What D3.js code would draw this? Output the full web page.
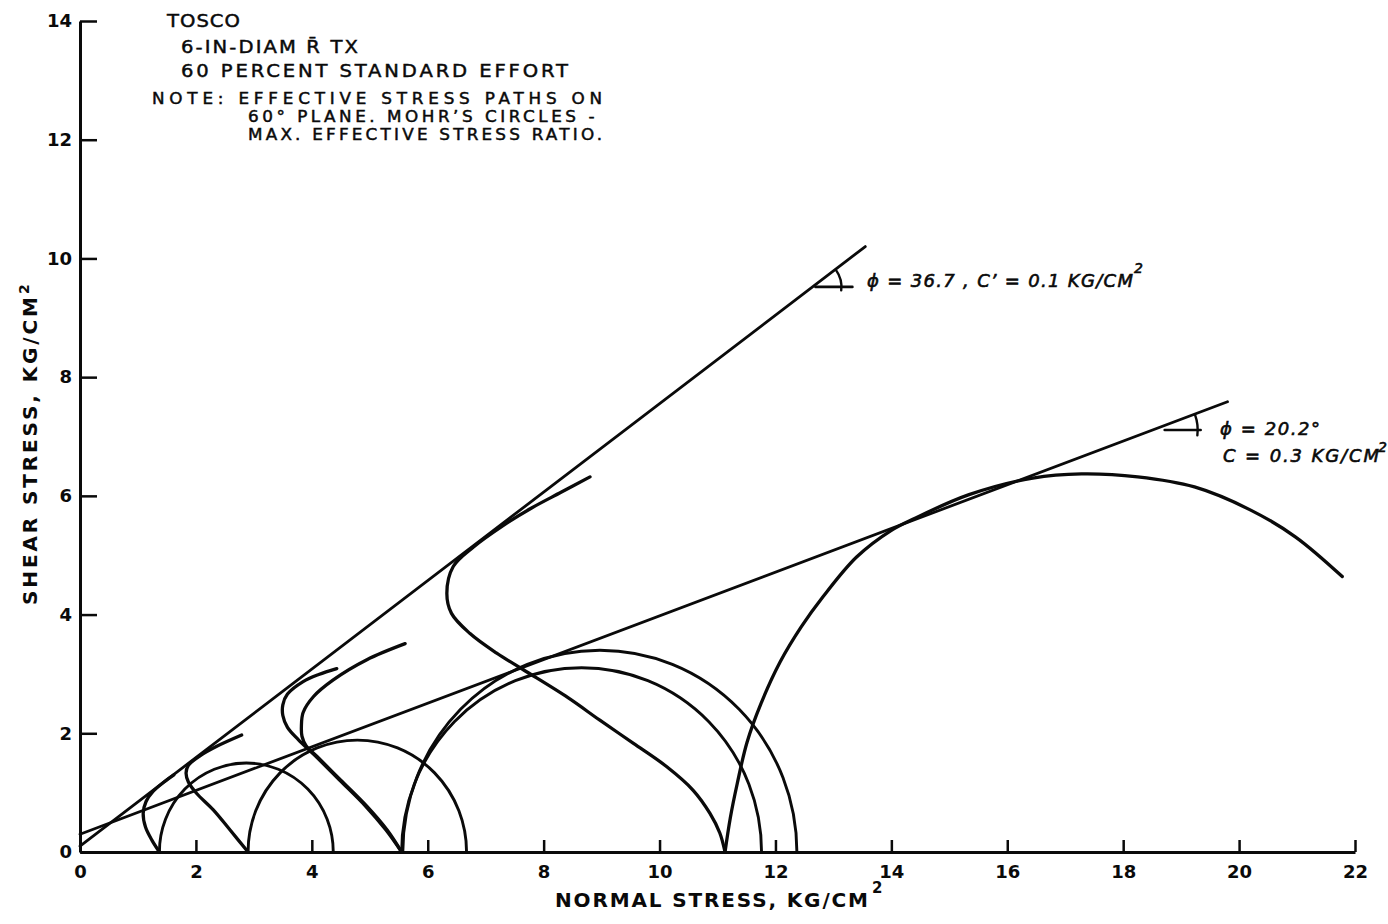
<!DOCTYPE html>
<html>
<head>
<meta charset="utf-8">
<script src="https://cdn.jsdelivr.net/npm/d3@7"></script>
<style>
  html, body { margin: 0; padding: 0; background: #ffffff; }
  svg { display: block; }
</style>
</head>
<body>
<svg id="chart" width="1388" height="924"></svg>
<script>
// ---- axis ticks ----
const xTicks = [0, 2, 4, 6, 8, 10, 12, 14, 16, 18, 20, 22];
const yTicks = [0, 2, 4, 6, 8, 10, 12, 14];

// ---- failure envelopes: friction angle (deg), cohesion (kg/cm2), drawn extent on the normal-stress axis ----
const envelopePhi = [36.7, 20.2];
const envelopeC = [0.1, 0.3];
const envelopeEnd = [13.55, 19.8];

// ---- Mohr's circles at max. effective stress ratio: minor and major principal stress ----
const circleSigma3 = [1.37, 2.90, 5.55, 5.57];
const circleSigma1 = [4.37, 6.67, 11.76, 12.37];

// ---- effective stress paths on the 60° plane: [normal stress, shear stress] ----
const pathA = [[1.37, 0], [1.24, 0.20], [1.13, 0.42], [1.09, 0.65], [1.14, 0.85],
               [1.26, 1.02], [1.45, 1.18], [1.62, 1.30]];
const pathB = [[2.90, 0], [2.59, 0.37], [2.30, 0.71], [2.01, 0.99], [1.87, 1.18],
               [1.83, 1.33], [1.87, 1.46], [2.07, 1.62], [2.36, 1.78], [2.79, 1.97]];
const pathC = [[5.55, 0], [5.28, 0.37], [4.93, 0.77], [4.47, 1.22], [4.06, 1.62],
               [3.77, 1.89], [3.58, 2.10], [3.50, 2.30], [3.50, 2.48], [3.58, 2.66],
               [3.85, 2.87], [4.12, 2.99], [4.43, 3.09]];
const pathD = [[5.55, 0], [5.30, 0.37], [4.96, 0.76], [4.50, 1.21], [4.09, 1.61],
               [3.90, 1.79], [3.83, 1.95], [3.82, 2.11], [3.85, 2.35], [4.03, 2.62],
               [4.37, 2.90], [4.95, 3.24], [5.61, 3.51]];
const pathE = [[11.13, 0], [11.04, 0.32], [10.87, 0.65], [10.58, 1.04], [10.12, 1.44],
               [9.55, 1.83], [8.97, 2.22], [8.42, 2.60], [7.65, 3.07], [7.19, 3.35],
               [6.73, 3.68], [6.41, 4.02], [6.33, 4.36], [6.44, 4.81], [6.79, 5.14],
               [7.30, 5.50], [7.80, 5.80], [8.30, 6.06], [8.80, 6.32]];
const pathF = [[11.13, 0], [11.22, 0.57], [11.34, 1.15], [11.51, 1.85], [11.75, 2.50],
               [12.08, 3.20], [12.45, 3.80], [12.82, 4.30], [13.40, 4.97], [14.00, 5.42],
               [14.40, 5.62], [15.34, 6.02], [16.44, 6.30], [17.28, 6.37], [18.25, 6.32],
               [19.23, 6.15], [20.20, 5.76], [20.97, 5.31], [21.78, 4.64]];
const stressPaths = [pathA, pathB, pathC, pathD, pathE, pathF];

// ---- text ----
const headerLines = ["TOSCO", "6-IN-DIAM R\u0304 TX", "60 PERCENT STANDARD EFFORT"];
const noteLines = ["NOTE:  EFFECTIVE STRESS PATHS ON", "60\u00B0 PLANE.  MOHR\u2019S CIRCLES -", "MAX. EFFECTIVE STRESS RATIO."];
const xTitle = "NORMAL STRESS, KG/CM";
const yTitle = "SHEAR STRESS, KG/CM";

// ---- layout ----
const svg = d3.select("#chart");
const x = d3.scaleLinear().domain([0, 22]).range([80, 1355]);
const y = d3.scaleLinear().domain([0, 14]).range([852, 21]);
const ink = "#0a0a0a";
const tickFont = "'DejaVu Sans', sans-serif";

// axes
const yAxis = d3.axisLeft(y).tickValues(yTicks).tickSizeInner(-17).tickSizeOuter(0)
  .tickPadding(8).tickFormat(d3.format("d"));
const xAxis = d3.axisBottom(x).tickValues(xTicks).tickSizeInner(-12).tickSizeOuter(0)
  .tickPadding(13).tickFormat(d3.format("d"));

const gy = svg.append("g").attr("transform", `translate(${x(0)},0)`).call(yAxis);
const gx = svg.append("g").attr("transform", `translate(0,${y(0)})`).call(xAxis);
[gx, gy].forEach(g => {
  g.select(".domain").attr("stroke", ink).attr("stroke-width", 3);
  g.selectAll(".tick line").attr("stroke", ink).attr("stroke-width", 2.5);
  g.selectAll(".tick text").attr("fill", ink)
    .style("font-family", tickFont).style("font-weight", "bold").style("font-size", "18px");
});

// axis titles
svg.append("text").attr("x", 555).attr("y", 907)
  .attr("textLength", 313).attr("lengthAdjust", "spacing")
  .style("font-family", tickFont).style("font-weight", "bold").style("font-size", "20px")
  .attr("fill", ink).text(xTitle);
svg.append("text").attr("x", 872).attr("y", 893)
  .style("font-family", tickFont).style("font-weight", "bold").style("font-size", "15px")
  .attr("fill", ink).text("2");

const yt = svg.append("g").attr("transform", "translate(37,605) rotate(-90)");
yt.append("text").attr("x", 0).attr("y", 0)
  .attr("textLength", 308).attr("lengthAdjust", "spacing")
  .style("font-family", tickFont).style("font-weight", "bold").style("font-size", "20px")
  .attr("fill", ink).text(yTitle);
yt.append("text").attr("x", 311).attr("y", -8)
  .style("font-family", tickFont).style("font-weight", "bold").style("font-size", "14px")
  .attr("fill", ink).text("2");

// header and note block: glyphs widened a little, remaining width taken up by letter spacing
const blockFont = "'DejaVu Sans', sans-serif";
const stretch = 1.12;
function fitSpacing(node, target) {
  const n = node.textContent.length;
  const w = node.getComputedTextLength();
  const ls = (target / stretch - w) / Math.max(1, n - 1);
  d3.select(node).style("letter-spacing", ls.toFixed(3) + "px");
}
function textBlock(lines, pos, size) {
  lines.forEach((s, i) => {
    const t = svg.append("text")
      .attr("transform", `scale(${stretch},1)`)
      .attr("x", pos[i][0] / stretch).attr("y", pos[i][1])
      .style("font-family", blockFont).style("font-size", size + "px")
      .attr("fill", ink).attr("stroke", ink).attr("stroke-width", 0.45).text(s);
    fitSpacing(t.node(), pos[i][2]);
  });
}
textBlock(headerLines, [[167, 27, 73], [181, 53, 179], [181, 77, 387]], 17.5);
textBlock(noteLines, [[152, 104.5, 455], [248, 122, 350], [248, 139.6, 354]], 15);

// plot marks
const marks = svg.append("g").attr("fill", "none").attr("stroke", ink)
  .attr("stroke-linecap", "round").attr("stroke-linejoin", "round");

// failure envelopes
const envTan = envelopePhi.map(p => Math.tan(p * Math.PI / 180));
envelopePhi.forEach((p, i) => {
  marks.append("line")
    .attr("x1", x(0)).attr("y1", y(envelopeC[i]))
    .attr("x2", x(envelopeEnd[i])).attr("y2", y(envelopeC[i] + envTan[i] * envelopeEnd[i]))
    .attr("stroke-width", 2.8);
});

// Mohr's circles (half circles above the normal-stress axis)
circleSigma3.forEach((s3, i) => {
  const s1 = circleSigma1[i];
  const r = (s1 - s3) / 2;
  const rx = x(s3 + r) - x(s3);
  const ry = y(0) - y(r);
  marks.append("path")
    .attr("d", `M${x(s3)},${y(0)} A${rx},${ry} 0 0 1 ${x(s1)},${y(0)}`)
    .attr("stroke-width", 2.9);
});

// stress paths
const pathLine = d3.line().x(d => x(d[0])).y(d => y(d[1]))
  .curve(d3.curveCatmullRom.alpha(0.5));
stressPaths.forEach(p => {
  marks.append("path").attr("d", pathLine(p)).attr("stroke-width", 3.3);
});

// angle symbols on the envelopes
const kx = x(1) - x(0), ky = y(0) - y(1);
const angleMarks = [
  { env: 0, tau: 9.52, h0: 3, h1: 40, r: 29 },
  { env: 1, tau: 7.11, h0: 12, h1: 48, r: 45 }
];
angleMarks.forEach(m => {
  const i = m.env;
  const sig = (m.tau - envelopeC[i]) / envTan[i];
  const px = x(sig), py = y(m.tau);
  const th = Math.atan(envTan[i] * ky / kx);
  marks.append("line").attr("x1", px + m.h0).attr("y1", py).attr("x2", px + m.h1).attr("y2", py)
    .attr("stroke-width", 2.6);
  const a0 = th * 0.95, a1 = -0.12;
  marks.append("path")
    .attr("d", `M${px + m.r * Math.cos(a0)},${py - m.r * Math.sin(a0)} A${m.r},${m.r} 0 0 1 ${px + m.r * Math.cos(a1)},${py - m.r * Math.sin(a1)}`)
    .attr("stroke-width", 2.4);
});

// envelope labels
const labFont = "'DejaVu Sans', sans-serif";
function lab(t, xx, yy, len, size) {
  const s = svg.append("text").attr("x", xx).attr("y", yy)
    .style("font-family", labFont).style("font-style", "italic")
    .style("font-size", size + "px").attr("fill", ink)
    .attr("stroke", ink).attr("stroke-width", 0.6).text(t);
  if (len) s.attr("textLength", len).attr("lengthAdjust", "spacing");
  return s;
}
lab(`\u03D5 =  ${envelopePhi[0]} , C\u2019 = ${envelopeC[0]} KG/CM`, 867, 287, 266, 18);
lab("2", 1134, 273, null, 14);
lab(`\u03D5 = ${envelopePhi[1]}\u00B0`, 1220, 435, 100, 18);
lab(`C = ${envelopeC[1]} KG/CM`, 1223, 462, 156, 18);
lab("2", 1378, 452, null, 14);
</script>
</body>
</html>
